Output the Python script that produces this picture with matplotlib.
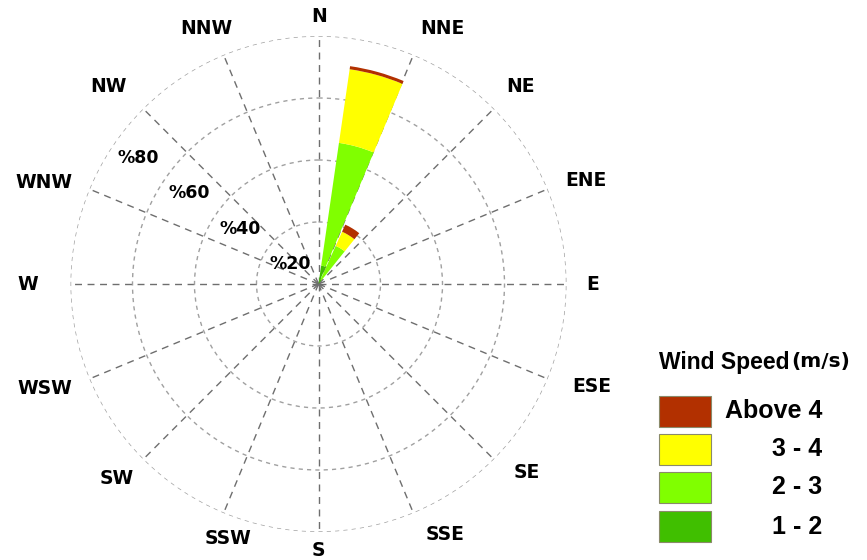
import numpy as np
import matplotlib
matplotlib.use("Agg")
import matplotlib.pyplot as plt
from matplotlib.patches import Rectangle

# Wind rose data: sector centre directions (degrees from north) and
# frequency (%) contributed by each wind-speed class
directions_deg = [15.5, 31.5]
sector_width_deg = 14.5
freq_1_2 = [6.0, 1.5]
freq_2_3 = [40.0, 12.0]
freq_3_4 = [24.0, 5.0]
freq_above_4 = [1.0, 2.5]

speed_classes = ["Above 4", "3 - 4", "2 - 3", "1 - 2"]
class_colors = ["#b23000", "#ffff00", "#80ff00", "#40bf00"]

compass_labels = ["N", "NNE", "NE", "ENE", "E", "ESE", "SE", "SSE",
                  "S", "SSW", "SW", "WSW", "W", "WNW", "NW", "NNW"]
ring_values = [20, 40, 60, 80]
ring_labels = ["%20", "%40", "%60", "%80"]

W, H = 867, 560
fig = plt.figure(figsize=(W / 100, H / 100), dpi=100)
fig.patch.set_facecolor("white")

cx, cy, R = 318.5, 284.0, 248.0
ax = fig.add_axes([(cx - R) / W, (H - cy - R) / H, 2 * R / W, 2 * R / H],
                  projection="polar")
ax.set_theta_zero_location("N")
ax.set_theta_direction(-1)
ax.set_ylim(0, 80)
ax.spines["polar"].set_visible(False)
ax.set_facecolor("white")

ax.set_thetagrids(np.arange(0, 360, 22.5), labels=[""] * 16)
ax.set_rgrids(ring_values, labels=[""] * 4)
ax.xaxis.grid(True, color="#6e6e6e", linestyle=(0, (5, 4)), linewidth=1.0)
ax.yaxis.grid(True, color="#a0a0a0", linestyle=(0, (3, 3)), linewidth=1.0)
ax.set_axisbelow(True)

# stacked sectors, innermost class first
theta = np.deg2rad(directions_deg)
width = np.deg2rad(sector_width_deg)
stack = [freq_1_2, freq_2_3, freq_3_4, freq_above_4]
stack_colors = class_colors[::-1]
bottom = np.zeros(len(directions_deg))
for seg, col in zip(stack, stack_colors):
    seg = np.asarray(seg)
    ax.bar(theta, seg, width=width, bottom=bottom, color=col,
           edgecolor="none", align="center", zorder=3)
    bottom = bottom + seg

# compass direction labels, placed around the outer ring (pixel centres)
label_xy = {
    "N": (319, 16), "NNE": (442, 29), "NE": (521, 87), "ENE": (586, 181),
    "E": (593, 284), "ESE": (592, 386), "SE": (527, 472), "SSE": (445, 534),
    "S": (318, 550), "SSW": (228, 539), "SW": (117, 479), "WSW": (45, 388),
    "W": (28, 284), "WNW": (44, 182), "NW": (108, 87), "NNW": (206, 29),
}
for lab in compass_labels:
    x, y = label_xy[lab]
    fig.text(x / W, 1 - y / H, lab, family="DejaVu Sans", weight="bold",
             size=13.5, ha="center", va="center")

# radial percentage labels
label_dir = np.deg2rad(-55.0)
for val, lab in zip(ring_values, ring_labels):
    ax.text(label_dir, val - 9.0, lab, family="DejaVu Sans", weight="bold",
            size=12.5, ha="center", va="center", zorder=4)

# legend
t1 = fig.text(659 / W, 1 - 362 / H, "Wind Speed", family="Liberation Sans",
              weight="bold", size=16.5, ha="left", va="center")
fig.canvas.draw()
bb = t1.get_window_extent(renderer=fig.canvas.get_renderer())
fig.text((bb.x1 + 2) / W, 1 - 362 / H, "(m/s)", family="DejaVu Sans",
         weight="bold", size=14.5, ha="left", va="center")

box_tops = [396, 434, 472, 511]
for lab, col, top in zip(speed_classes, class_colors, box_tops):
    fig.patches.append(Rectangle((659 / W, 1 - (top + 31) / H), 52 / W, 31 / H,
                                 transform=fig.transFigure, facecolor=col,
                                 edgecolor="#8a8a6a", linewidth=0.8))
    fig.text(822 / W, 1 - (top + 15.5) / H, lab, family="Liberation Sans",
             weight="bold", size=18, ha="right", va="center")

fig.savefig("out.png", dpi=100, facecolor="white")
